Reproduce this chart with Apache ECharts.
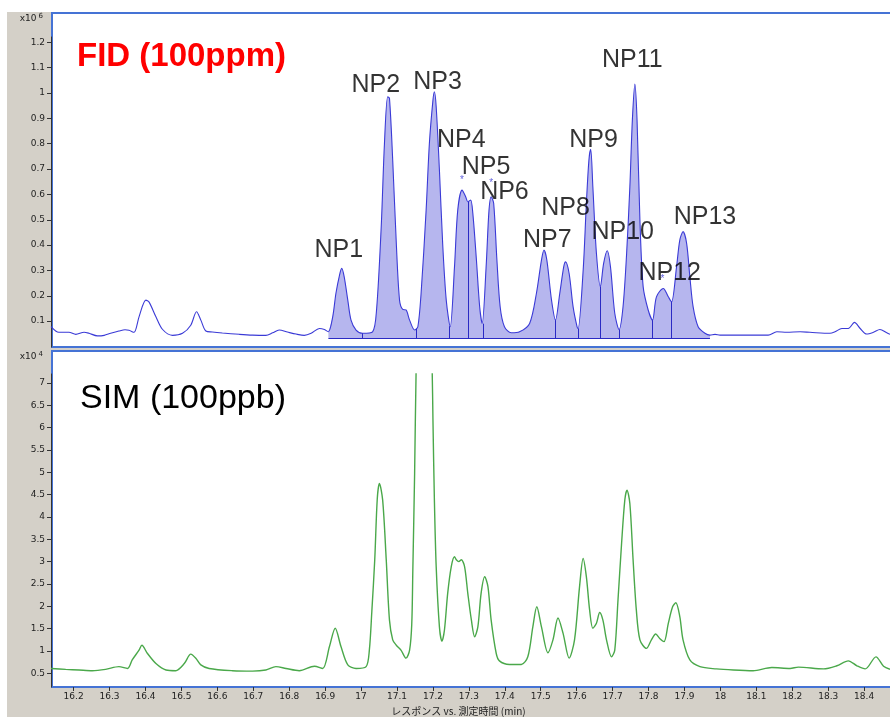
<!DOCTYPE html>
<html>
<head>
<meta charset="utf-8">
<title>FID / SIM</title>
<script src="https://cdn.jsdelivr.net/npm/echarts@6.0.0/dist/echarts.min.js"></script>
<style>
html,body{margin:0;padding:0;background:#fff;}
#chart{width:890px;height:717px;}
</style>
</head>
<body>
<div id="chart"></div>
<script>
// FID 信号 [保持時間 (min), 応答 x10^6]
const fidCurve = [
  [16.137,0.078],[16.150,0.061],[16.159,0.056],[16.187,0.056],[16.206,0.048],[16.229,0.056],[16.243,0.052],
  [16.266,0.042],[16.285,0.044],[16.303,0.052],[16.326,0.061],[16.343,0.066],[16.354,0.064],[16.368,0.056],
  [16.382,0.117],[16.401,0.183],[16.410,0.175],[16.429,0.117],[16.447,0.068],[16.475,0.044],[16.503,0.052],
  [16.526,0.084],[16.542,0.137],[16.554,0.104],[16.568,0.061],[16.586,0.057],[16.614,0.053],[16.661,0.048],
  [16.698,0.045],[16.735,0.044],[16.754,0.054],[16.772,0.065],[16.795,0.057],[16.819,0.049],[16.842,0.044],
  [16.861,0.052],[16.884,0.071],[16.898,0.067],[16.909,0.058],[16.921,0.117],[16.930,0.21],[16.940,0.282],
  [16.946,0.308],[16.953,0.275],[16.963,0.183],[16.972,0.104],[16.986,0.065],[17.004,0.052],[17.032,0.058],
  [17.043,0.144],[17.056,0.472],[17.065,0.80],[17.074,0.985],[17.079,0.979],[17.088,0.735],[17.098,0.407],
  [17.107,0.183],[17.116,0.146],[17.125,0.144],[17.135,0.104],[17.149,0.065],[17.158,0.078],[17.167,0.21],
  [17.181,0.538],[17.190,0.80],[17.200,0.972],[17.204,1.005],[17.209,0.946],[17.218,0.696],[17.227,0.407],
  [17.237,0.183],[17.248,0.078],[17.260,0.315],[17.269,0.538],[17.281,0.617],[17.291,0.591],[17.297,0.571],
  [17.305,0.578],[17.311,0.525],[17.321,0.341],[17.330,0.157],[17.337,0.091],[17.348,0.315],[17.356,0.538],
  [17.362,0.591],[17.369,0.565],[17.378,0.341],[17.387,0.157],[17.399,0.078],[17.418,0.054],[17.441,0.058],
  [17.469,0.091],[17.488,0.21],[17.502,0.341],[17.509,0.38],[17.517,0.341],[17.530,0.183],[17.541,0.104],
  [17.553,0.21],[17.564,0.315],[17.569,0.334],[17.579,0.288],[17.590,0.157],[17.601,0.078],[17.604,0.071],
  [17.618,0.30],[17.627,0.565],[17.634,0.735],[17.639,0.778],[17.645,0.63],[17.655,0.367],[17.666,0.236],
  [17.675,0.328],[17.685,0.378],[17.694,0.315],[17.706,0.131],[17.718,0.067],[17.729,0.157],[17.739,0.367],
  [17.748,0.63],[17.755,0.894],[17.762,1.035],[17.768,0.894],[17.776,0.499],[17.785,0.236],[17.799,0.144],
  [17.811,0.104],[17.822,0.196],[17.841,0.229],[17.855,0.196],[17.864,0.176],[17.878,0.315],[17.887,0.42],
  [17.896,0.453],[17.906,0.407],[17.915,0.275],[17.924,0.157],[17.938,0.078],[17.957,0.052],[17.971,0.045],
  [17.985,0.048],[17.999,0.045],[18.133,0.045],[18.157,0.058],[18.185,0.056],[18.222,0.058],[18.249,0.056],
  [18.305,0.052],[18.319,0.058],[18.338,0.071],[18.356,0.071],[18.373,0.095],[18.389,0.071],[18.407,0.049],
  [18.426,0.056],[18.444,0.067],[18.463,0.054],[18.472,0.048]
];

// SIM 信号 [保持時間 (min), 応答 x10^4]
const simCurve = [
  [16.137,0.61],[16.178,0.59],[16.215,0.575],[16.252,0.56],[16.289,0.59],[16.326,0.65],[16.350,0.61],
  [16.363,0.80],[16.382,1.02],[16.390,1.13],[16.405,0.95],[16.429,0.72],[16.457,0.575],[16.484,0.56],
  [16.508,0.72],[16.526,0.93],[16.540,0.84],[16.554,0.69],[16.577,0.61],[16.642,0.56],[16.698,0.55],
  [16.735,0.575],[16.763,0.65],[16.791,0.61],[16.828,0.56],[16.870,0.66],[16.893,0.61],[16.912,1.10],
  [16.928,1.51],[16.944,1.10],[16.963,0.69],[16.986,0.61],[17.014,0.65],[17.023,1.02],[17.030,1.9],
  [17.038,3.04],[17.045,4.4],[17.051,4.75],[17.060,4.38],[17.070,3.04],[17.079,1.69],
  [17.088,1.25],[17.098,1.13],[17.111,1.02],[17.125,0.84],[17.135,1.02],[17.141,1.6],[17.144,2.8],
  [17.149,4.98],[17.153,7.21],[17.158,8.6],[17.175,10.5],[17.193,8.6],[17.198,7.21],[17.200,6.17],
  [17.204,4.38],[17.209,2.89],[17.218,1.54],[17.225,1.22],[17.232,1.47],[17.241,2.29],[17.251,2.89],
  [17.260,3.11],[17.265,3.04],[17.272,3.0],[17.279,3.04],[17.288,2.89],[17.297,2.29],[17.307,1.69],
  [17.316,1.32],[17.325,1.54],[17.334,2.29],[17.344,2.66],[17.353,2.44],[17.362,1.69],[17.376,0.95],
  [17.385,0.78],[17.413,0.70],[17.446,0.70],[17.464,0.87],[17.478,1.54],[17.489,1.99],[17.502,1.54],
  [17.520,0.96],[17.534,1.25],[17.548,1.74],[17.562,1.40],[17.579,0.84],[17.594,1.25],[17.608,2.44],
  [17.618,3.07],[17.627,2.66],[17.636,1.92],[17.645,1.51],[17.655,1.62],[17.664,1.86],[17.673,1.69],
  [17.683,1.25],[17.697,0.87],[17.706,1.02],[17.715,2.14],[17.725,3.41],[17.734,4.38],[17.740,4.60],
  [17.748,4.30],[17.757,3.04],[17.766,1.92],[17.776,1.25],[17.794,1.06],[17.808,1.25],[17.820,1.38],
  [17.831,1.28],[17.843,1.21],[17.855,1.62],[17.867,1.99],[17.876,2.08],[17.887,1.77],[17.896,1.25],
  [17.915,0.80],[17.943,0.65],[17.989,0.60],[18.036,0.575],[18.091,0.56],[18.143,0.63],[18.194,0.61],
  [18.217,0.64],[18.287,0.60],[18.324,0.67],[18.356,0.78],[18.380,0.67],[18.403,0.60],[18.433,0.87],
  [18.454,0.66],[18.472,0.59]
];

// 積分範囲とベースライン
const fillStart = 16.909
const fillEnd = 17.971
const fidBase = 0.033
// 分割線 [時間, 上端値]
const dividers = [
  [17.004,0.052],[17.153,0.07],[17.246,0.08],[17.297,0.571],[17.339,0.09],[17.541,0.104],
  [17.604,0.071],[17.666,0.236],[17.718,0.067],[17.811,0.104],[17.864,0.176]
]

// ピーク名 [名前, 時間, 値]
const peakLabels = [
  ['NP1',16.938,0.380],['NP2',17.041,1.031],['NP3',17.213,1.045],['NP4',17.279,0.815],
  ['NP5',17.348,0.708],['NP6',17.399,0.610],['NP7',17.518,0.420],['NP8',17.569,0.546],
  ['NP9',17.647,0.816],['NP10',17.728,0.453],['NP11',17.755,1.130],['NP12',17.859,0.290],
  ['NP13',17.957,0.511]
]
const stars = [[17.281,0.657],[17.362,0.644],[17.839,0.265]]

const xTicks = [16.2,16.3,16.4,16.5,16.6,16.7,16.8,16.9,17,17.1,17.2,17.3,17.4,17.5,17.6,17.7,17.8,17.9,18,18.1,18.2,18.3,18.4]
const fidTicks = [0.1,0.2,0.3,0.4,0.5,0.6,0.7,0.8,0.9,1,1.1,1.2]
const simTicks = [0.5,1,1.5,2,2.5,3,3.5,4,4.5,5,5.5,6,6.5,7]

const xMin = 16.137
const xMax = 18.472

const frameBlue = "#4573d5"
const gray = "#d4d0c8"
const axisFont = "DejaVu Sans"

const myChart = echarts.init(document.getElementById("chart"))

const yAxisCommon = (ticks) => ({
  type: "value",
  splitLine: { show: false },
  axisLine: { show: true, lineStyle: { color: "#333", width: 1 } },
  axisTick: { show: true, customValues: ticks, length: 4, lineStyle: { color: "#333" } },
  axisLabel: {
    customValues: ticks,
    fontSize: 9,
    color: "#222",
    fontFamily: axisFont,
    margin: 6,
    formatter: v => String(v)
  },
  nameLocation: "end",
  nameTextStyle: {
    align: "right",
    padding: [0, 8, 0, 0],
    rich: {
      a: { fontSize: 9, color: "#222", fontFamily: axisFont },
      b: { fontSize: 7, color: "#222", fontFamily: axisFont, verticalAlign: "top", padding: [0, 0, 5, 2] }
    }
  }
})

myChart.setOption({
  animation: false,
  backgroundColor: "#fff",
  graphic: [
    { type: "rect", z: -100, shape: { x: 7, y: 12, width: 883, height: 705 }, style: { fill: gray } },
    { type: "rect", z: -90, shape: { x: 52, y: 13, width: 850, height: 334 }, style: { fill: "#fff", stroke: frameBlue, lineWidth: 2 } },
    { type: "rect", z: -90, shape: { x: 52, y: 351, width: 850, height: 336 }, style: { fill: "#fff", stroke: frameBlue, lineWidth: 2 } }
  ],
  title: [
    {
      text: "FID (100ppm)",
      left: 77, top: 40, padding: 0,
      textStyle: { color: "#ff0000", fontSize: 33, fontWeight: "bold", fontFamily: "Liberation Sans" }
    },
    {
      text: "SIM (100ppb)",
      left: 80, top: 382, padding: 0,
      textStyle: { color: "#000", fontSize: 34, fontWeight: "normal", fontFamily: "Liberation Sans" }
    }
  ],
  grid: [
    { left: 51, right: 0, top: 37, height: 310 },
    { left: 51, right: 0, top: 374, height: 313 }
  ],
  xAxis: [
    {
      type: "value", gridIndex: 0, min: xMin, max: xMax,
      axisLine: { show: false }, axisTick: { show: false }, axisLabel: { show: false }, splitLine: { show: false }
    },
    {
      type: "value", gridIndex: 1, min: xMin, max: xMax,
      axisLine: { show: false },
      splitLine: { show: false },
      axisTick: { show: true, customValues: xTicks, length: 4, lineStyle: { color: "#333" } },
      axisLabel: { customValues: xTicks, fontSize: 9, color: "#222", fontFamily: axisFont, margin: 5, formatter: v => String(v) },
      name: "レスポンス vs. 測定時間 (min)",
      nameLocation: "middle",
      nameGap: 19,
      nameTextStyle: { fontSize: 10, color: "#222", fontFamily: "Noto Sans CJK JP", padding: [0, 24, 0, 0] }
    }
  ],
  yAxis: [
    Object.assign(yAxisCommon(fidTicks), { gridIndex: 0, min: -0.002, max: 1.221, name: "{a|x10}{b|6}", nameGap: 12 }),
    Object.assign(yAxisCommon(simTicks), { gridIndex: 1, min: 0.195, max: 7.197, name: "{a|x10}{b|4}", nameGap: 11 })
  ],
  series: [
    {
      // 積分面
      type: "line",
      xAxisIndex: 0, yAxisIndex: 0,
      data: fidCurve.filter(p => p[0] >= fillStart && p[0] <= fillEnd),
      smooth: 0.3,
      symbol: "none",
      silent: true,
      lineStyle: { width: 0 },
      areaStyle: { color: "#b6b6ee", opacity: 1, origin: fidBase },
      markLine: {
        silent: true,
        symbol: "none",
        label: { show: false },
        lineStyle: { color: "#2a2ac4", width: 1, type: "solid" },
        data: [
          [{ coord: [fillStart, fidBase] }, { coord: [fillEnd, fidBase] }],
          ...dividers.map(d => [{ coord: [d[0], fidBase] }, { coord: [d[0], d[1]] }])
        ]
      }
    },
    {
      name: "FID",
      type: "line",
      xAxisIndex: 0, yAxisIndex: 0,
      data: fidCurve,
      smooth: 0.3,
      symbol: "none",
      silent: true,
      lineStyle: { color: "#3a3ad6", width: 1.1 }
    },
    {
      name: "SIM",
      type: "line",
      xAxisIndex: 1, yAxisIndex: 1,
      data: simCurve,
      smooth: 0.3,
      symbol: "none",
      silent: true,
      clip: true,
      lineStyle: { color: "#4aa84a", width: 1.4 }
    },
    {
      // ピーク名
      type: "scatter",
      xAxisIndex: 0, yAxisIndex: 0,
      z: 20,
      zlevel: 1,
      symbolSize: 1,
      silent: true,
      itemStyle: { color: "rgba(0,0,0,0)" },
      label: {
        show: true,
        position: "inside",
        formatter: p => p.name,
        fontSize: 25,
        color: "#000",
        textBorderWidth: 0,
        fontFamily: "Liberation Sans"
      },
      data: peakLabels.map(l => ({ name: l[0], value: [l[1], l[2]] }))
    },
    {
      type: "scatter",
      xAxisIndex: 0, yAxisIndex: 0,
      z: 20,
      zlevel: 1,
      symbolSize: 1,
      silent: true,
      itemStyle: { color: "rgba(0,0,0,0)" },
      label: { show: true, position: "inside", formatter: "*", fontSize: 10, color: "#3a3ad6", textBorderWidth: 0 },
      data: stars
    }
  ]
})
</script>
</body>
</html>
